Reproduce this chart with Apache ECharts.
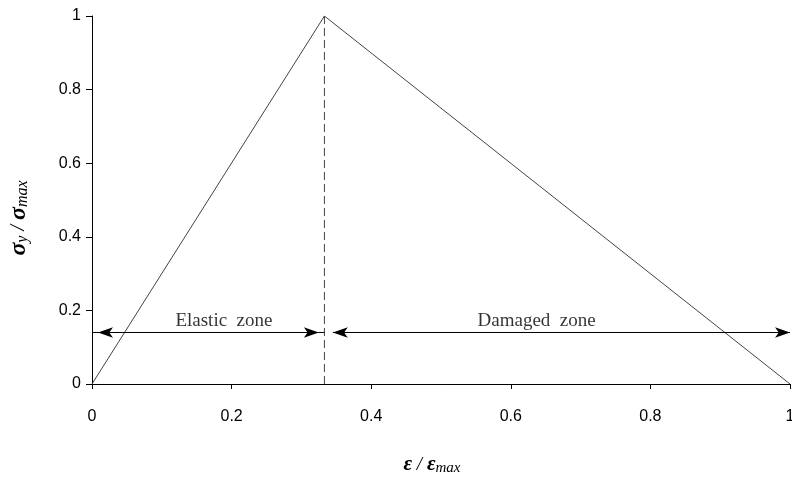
<!DOCTYPE html>
<html><head><meta charset="utf-8">
<script src="https://cdn.jsdelivr.net/npm/echarts@6/dist/echarts.min.js"></script>
<style>html,body{margin:0;padding:0;background:#fff}#c{width:792px;height:481px}</style>
</head><body><div id="c"></div>
<script>
// Data
const curveX = [0, 0.333, 1];
const curveY = [0, 1, 0];
const peakX = 0.333;
const peakY = 1;
const zoneY = 0.14;
const elasticZone = [0.0086, 0.325];
const damagedZone = [0.345, 1];
const zoneLabels = ['Elastic  zone', 'Damaged  zone'];
const zoneLabelX = [0.189, 0.637];
const zoneLabelY = 0.17;
const xTicks = [0, 0.2, 0.4, 0.6, 0.8, 1];
const yTicks = [0, 0.2, 0.4, 0.6, 0.8, 1];

const chart = echarts.init(document.getElementById('c'), null, {renderer: 'canvas'});
const serif = '"Liberation Serif", "Times New Roman", serif';
const tickFont = {fontFamily: '"Liberation Sans Narrow", "Liberation Sans", Arial, sans-serif', fontSize: 16, color: '#000'};

const curve = curveX.map((x, i) => [x, curveY[i]]);
const arrowSym = ['arrow', 'arrow'];

chart.setOption({
  animation: false,
  grid: {left: 92, right: 2, top: 16, bottom: 97, containLabel: false, outerBoundsMode: 'none'},
  xAxis: {
    type: 'value', min: xTicks[0], max: xTicks[xTicks.length - 1], interval: 0.2,
    splitLine: {show: false},
    axisLine: {lineStyle: {color: '#000', width: 1}},
    axisTick: {show: true, inside: false, length: 5, lineStyle: {color: '#000'}},
    axisLabel: Object.assign({margin: 25, formatter: v => String(+v.toFixed(1))}, tickFont),
    name: '{e|ε}{n| / }{e|ε}{s|max}',
    nameLocation: 'middle', nameGap: 70,
    nameTextStyle: {
      padding: [0, 18, 0, 0],
      rich: {
        e: {fontFamily: serif, fontSize: 21, fontWeight: 'bold', fontStyle: 'italic', color: '#000'},
        n: {fontFamily: serif, fontSize: 19, fontStyle: 'italic', color: '#000'},
        s: {fontFamily: serif, fontSize: 15, fontStyle: 'italic', color: '#000', padding: [7, 0, 0, 0]}
      }
    }
  },
  yAxis: {
    type: 'value', min: yTicks[0], max: yTicks[yTicks.length - 1], interval: 0.2,
    splitLine: {show: false},
    axisLine: {show: true, lineStyle: {color: '#000', width: 1}},
    axisTick: {show: true, inside: false, length: 6, lineStyle: {color: '#000'}},
    axisLabel: Object.assign({margin: 11, formatter: v => String(+v.toFixed(1))}, tickFont),
    name: '{e|σ}{s|y}{n| / }{e|σ}{s|max}',
    nameLocation: 'middle', nameGap: 61, nameRotate: 90,
    nameTextStyle: {
      padding: [0, 36, 0, 0],
      rich: {
        e: {fontFamily: serif, fontSize: 24, fontWeight: 'bold', fontStyle: 'italic', color: '#000'},
        n: {fontFamily: serif, fontSize: 20, fontStyle: 'italic', color: '#000'},
        s: {fontFamily: serif, fontSize: 16, fontStyle: 'italic', color: '#000', padding: [8, 0, 0, 0]}
      }
    }
  },
  series: [
    {
      type: 'line', data: curve, symbol: 'none',
      lineStyle: {color: '#444', width: 1}, z: 3
    },
    {
      type: 'line', data: [[peakX, 0], [peakX, peakY]], symbol: 'none',
      lineStyle: {color: '#444', width: 1, type: [8, 4]}, z: 3
    },
    {
      type: 'line', data: [[0, zoneY], [elasticZone[0], zoneY]], symbol: 'none',
      lineStyle: {color: '#000', width: 1}
    },
    {
      type: 'line', data: [[elasticZone[1], zoneY], [peakX, zoneY]], symbol: 'none',
      lineStyle: {color: '#000', width: 1}
    },
    {
      type: 'line', data: [], symbol: 'none',
      markLine: {
        silent: true, symbol: arrowSym, symbolSize: [8, 15],
        lineStyle: {color: '#000', width: 1, type: 'solid'},
        label: {show: false},
        data: [
          [{coord: [elasticZone[0], zoneY]}, {coord: [elasticZone[1], zoneY]}],
          [{coord: [damagedZone[0], zoneY]}, {coord: [damagedZone[1], zoneY]}]
        ]
      }
    },
    {
      type: 'scatter', symbolSize: 0,
      data: zoneLabels.map((t, i) => ({value: [zoneLabelX[i], zoneLabelY], name: t})),
      label: {
        show: true, position: 'inside', formatter: p => p.name,
        fontFamily: serif, fontSize: 19, color: '#000'
      }
    }
  ]
});
</script>
</body></html>
